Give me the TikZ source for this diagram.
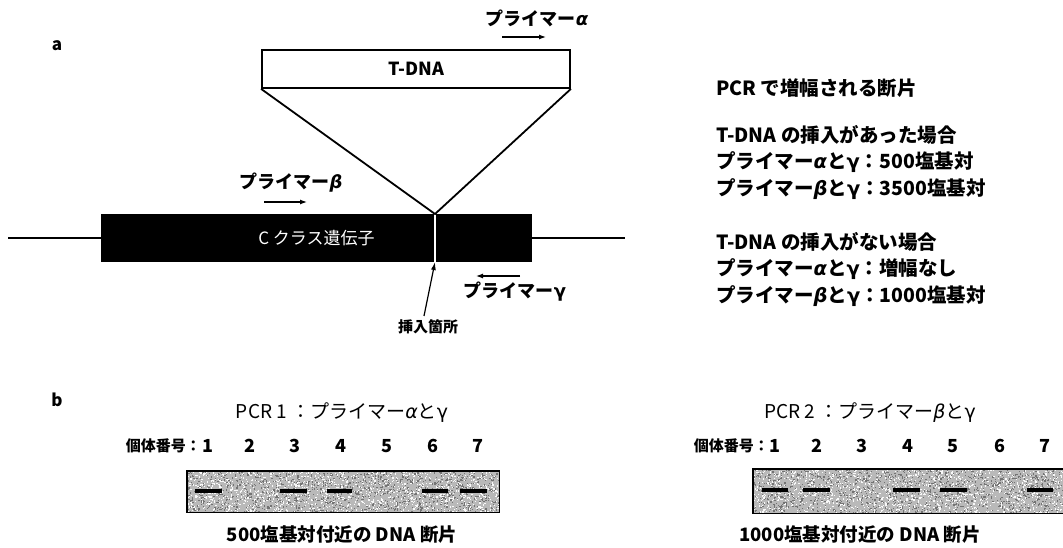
\documentclass[tikz,border=0pt]{standalone}
\usepackage{fontspec}
\setmainfont{Noto Sans CJK JP}
\newfontfamily\grkfont{DejaVu Sans}
\newcommand{\GrA}{{\grkfont\itshape α}}
\newcommand{\GrB}{{\grkfont\itshape β}}
\newcommand{\GrG}{{\grkfont γ}}
\usetikzlibrary{arrows.meta}
\definecolor{gelgray}{RGB}{185,185,185}
\begin{document}
\begin{tikzpicture}[x=1pt,y=-1pt,
  bl/.style={font=\bfseries\fontsize{18}{20}\selectfont, inner sep=0pt},
  rg/.style={font=\fontsize{19}{21}\selectfont, inner sep=0pt},
  rt/.style={font=\bfseries\fontsize{19.5}{21}\selectfont, inner sep=0pt, anchor=west},
  num/.style={font=\bfseries\fontsize{18}{20}\selectfont, inner sep=0pt},
  idl/.style={font=\bfseries\fontsize{15}{16}\selectfont, inner sep=0pt, anchor=east},
  captext/.style={font=\bfseries\fontsize{18.5}{20}\selectfont, inner sep=0pt},
  primer/.style={line width=1.2pt, -{Latex[length=7pt,width=5pt]}},
  heavy/.style={line width=1.8pt},
  gelfill/.style={fill=gelgray, inner sep=0pt, anchor=north west},
  band/.style={line width=4pt}]
\useasboundingbox (0,0) rectangle (1063,548);

% ---------- part a ----------
\node[bl, font=\bfseries\fontsize{17}{18}\selectfont] (la) at (57,46) {a};

\node[draw, heavy, fill=white, minimum width=308pt, minimum height=38pt, inner sep=0pt,
      font=\bfseries\fontsize{18}{20}\selectfont] (tdna) at (416,69) {T-DNA};

\draw[heavy] (8,238) -- (625,238);
\node[fill=black, minimum width=431pt, minimum height=48pt, inner sep=0pt,
      text=white, font=\fontsize{17}{18}\selectfont] (gene) at (316.5,238) {C クラス遺伝子};
\coordinate (ins) at (435,214);
\coordinate (insb) at (435,262);
\draw[white, line width=1.6pt] (ins) -- (insb);
\draw[heavy, line join=miter] (tdna.south west) -- (ins) -- (tdna.south east);

% primers
\node[bl] (pa) at (537,18) {プライマー\GrA};
\coordinate (pa1) at (502,37); \coordinate (pa2) at (546,37);
\draw[primer] (pa1) -- (pa2);

\node[bl] (pb) at (291,183) {プライマー\GrB};
\coordinate (pb1) at (264,202); \coordinate (pb2) at (307,202);
\draw[primer] (pb1) -- (pb2);

\coordinate (pg1) at (520,276); \coordinate (pg2) at (476,276);
\draw[primer] (pg1) -- (pg2);
\node[bl] (pg) at (515,292) {プライマー\GrG};

\node[bl, font=\bfseries\fontsize{15}{16}\selectfont] (site) at (428,327) {挿入箇所};
\coordinate (s0) at (424,316);
\draw[line width=1.2pt, -{Latex[length=8pt,width=5pt]}] (s0) -- (insb);

% right text
\node[rt] (r1) at (716,88) {PCR で増幅される断片};
\node[rt] (r2) at (716,135) {T-DNA の挿入があった場合};
\node[rt] (r3) at (716,162) {プライマー\GrA と\GrG：500塩基対};
\node[rt] (r4) at (716,189) {プライマー\GrB と\GrG：3500塩基対};
\node[rt] (r5) at (716,242) {T-DNA の挿入がない場合};
\node[rt] (r6) at (716,269) {プライマー\GrA と\GrG：増幅なし};
\node[rt] (r7) at (716,296) {プライマー\GrB と\GrG：1000塩基対};

% ---------- part b ----------
\node[bl, font=\bfseries\fontsize{17}{18}\selectfont] (lb) at (57,400) {b};

\node[rg] (t1) at (342,413) {PCR 1 ：プライマー\GrA と\GrG};
\node[rg] (t2) at (870,413) {PCR 2 ：プライマー\GrB と\GrG};

\node[idl] (id1) at (201,446) {個体番号：};
\foreach \n/\x in {1/208,2/250,3/295,4/341,5/387,6/433,7/478}
  \node[num] (a\n) at (\x,446) {\n};
\node[idl] (id2) at (769,446) {個体番号：};
\foreach \n/\x in {1/775,2/817,3/862,4/908,5/953,6/1000,7/1045}
  \node[num] (b\n) at (\x,446) {\n};

% gels
\pgfmathsetseed{11}
\node[gelfill, minimum width=312pt, minimum height=41pt] (gel1) at (187,471) {};
\node[gelfill, minimum width=310pt, minimum height=44pt] (gel2) at (753,469) {};
\foreach \i in {1,...,1300}{
  \fill[black!55] ({187+312*rnd},{471+41*rnd}) rectangle ++(1.2,1.2);
  \fill[white!95!gray] ({187+312*rnd},{471+41*rnd}) rectangle ++(1.2,1.2);
  \fill[black!55] ({753+310*rnd},{469+44*rnd}) rectangle ++(1.2,1.2);
  \fill[white!95!gray] ({753+310*rnd},{469+44*rnd}) rectangle ++(1.2,1.2);
}
\draw[line width=1.8pt] (gel1.north west) rectangle (gel1.south east);
\draw[line width=1.8pt] (gel2.north west) rectangle (gel2.south east);

\foreach \a/\b in {195/222,280/307,327/352,422/448,460/487}
  \draw[band] (\a,491) -- (\b,491);
\foreach \a/\b in {762/788,803/830,893/920,940/967,1027/1053}
  \draw[band] (\a,490) -- (\b,490);

\node[captext] (c1) at (342,535) {500塩基対付近の DNA 断片};
\node[captext] (c2) at (860,535) {1000塩基対付近の DNA 断片};
\end{tikzpicture}
\end{document}
